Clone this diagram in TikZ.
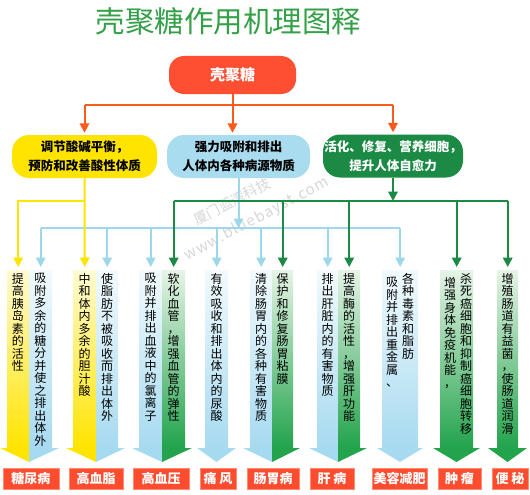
\documentclass[tikz,border=0pt]{standalone}
\usepackage{fontspec}
\setmainfont{Noto Sans CJK SC}
\usetikzlibrary{arrows.meta,calc}
\definecolor{ttl}{HTML}{34A048}
\definecolor{org}{HTML}{FF4F33}
\definecolor{orgline}{HTML}{FF5A1E}
\definecolor{ylw}{HTML}{FFE400}
\definecolor{ylwpale}{HTML}{FFFAD2}
\definecolor{blu}{HTML}{A9DCEE}
\definecolor{bluline}{HTML}{9DD7EA}
\definecolor{blustrip}{HTML}{A6DAF0}
\definecolor{blupale}{HTML}{F2FAFD}
\definecolor{grn}{HTML}{1B8A45}
\definecolor{grnstrip}{HTML}{22A34C}
\definecolor{grnpale}{HTML}{E6F4E6}
\definecolor{lblred}{HTML}{FF4B2E}
\definecolor{lblborder}{HTML}{FF8C73}
\definecolor{wmgray}{HTML}{D6D6D6}

\makeatletter
\def\vt@end{\vt@end}
\def\vt@step#1{\ifx#1\vt@end\else\hbox to 13pt{\hss#1\hss}\expandafter\vt@step\fi}
\newcommand\vtext[1]{\vbox{\baselineskip=12.5pt\lineskiplimit=-20pt\lineskip=0pt\vt@step#1\vt@end}}
\makeatother

\tikzset{
  pill/.style={rounded corners=17pt, minimum height=43pt, inner sep=0pt, align=center,
    font=\bfseries\fontsize{12.5}{19}\selectfont},
  arr/.style={-{Triangle[width=9.5pt,length=9.5pt]}},
  oln/.style={draw=orgline, line width=2pt},
  yln/.style={draw=ylw, line width=2pt},
  bln/.style={draw=bluline, line width=2pt},
  gln/.style={draw=grn, line width=2pt},
  strip/.style={minimum height=178pt, inner sep=0pt, anchor=north west},
  ystrip/.style={strip, top color=ylwpale, bottom color=ylw},
  bstrip/.style={strip, top color=blupale, bottom color=blustrip},
  gstrip/.style={strip, top color=grnpale, bottom color=grnstrip},
  vt/.style={anchor=north, inner sep=0pt, font=\fontsize{12}{12.5}\selectfont},
  lbl/.style={fill=lblred, draw=lblborder, line width=0.6pt, text=white,
    font=\bfseries\fontsize{13}{13}\selectfont, minimum height=21pt, inner sep=0pt},
  wm/.style={text=wmgray, inner sep=0pt}
}

\begin{document}
\begin{tikzpicture}[x=1pt, y=-1pt]
\useasboundingbox (0,0) rectangle (530,495);

% title
\node[text=ttl, font=\fontsize{29.5}{30}\selectfont] (title) at (228.5,21) {壳聚糖作用机理图释};

% top boxes
\node[fill=org, text=white, rounded corners=15pt, minimum width=127pt, minimum height=38pt,
  inner sep=0pt, font=\bfseries\fontsize{15}{15}\selectfont] (tb) at (232.5,75) {壳聚糖};
\node[pill, fill=ylw, minimum width=145pt] (yb) at (84.5,156.5) {调节酸碱平衡，\\预防和改善酸性体质};
\node[pill, fill=blu, minimum width=143pt] (bb) at (238.5,156.5) {强力吸附和排出\\人体内各种病源物质};
\node[pill, fill=grn, text=white, minimum width=140pt] (gb) at (393,156) {活化、修复、营养细胞，\\提升人体自愈力};

% strips
\node[ystrip, minimum width=22pt] (s1a) at (7,270) {};
\node[bstrip, minimum width=23pt] (s1b) at (29,270) {};
\node[ystrip, minimum width=23pt] (s2a) at (73,270) {};
\node[bstrip, minimum width=22pt] (s2b) at (96,270) {};
\node[bstrip, minimum width=23pt] (s3a) at (139,270) {};
\node[gstrip, minimum width=23pt] (s3b) at (162,270) {};
\node[bstrip, minimum width=23pt] (s4) at (205,270) {};
\node[bstrip, minimum width=22pt] (s5a) at (250,270) {};
\node[gstrip, minimum width=21pt] (s5b) at (272,270) {};
\node[bstrip, minimum width=21pt] (s6a) at (317,270) {};
\node[gstrip, minimum width=22pt] (s6b) at (338,270) {};
\node[bstrip, minimum width=36pt] (s7) at (382,270) {};
\node[gstrip, minimum width=33pt] (s8) at (440,270) {};
\node[gstrip, minimum width=21pt] (s9) at (497,270) {};

% arrow heads of the strips
\fill[ylw] (0,448) -- (29,448) -- (29,462) -- cycle;
\fill[blustrip] (29,448) -- (59,448) -- (29,462) -- cycle;
\fill[ylw] (66,448) -- (96,448) -- (96,462) -- cycle;
\fill[blustrip] (96,448) -- (125,448) -- (96,462) -- cycle;
\fill[blustrip] (132,448) -- (162,448) -- (162,462) -- cycle;
\fill[grnstrip] (162,448) -- (192,448) -- (162,462) -- cycle;
\fill[blustrip] (197,448) -- (236,448) -- (216.5,462) -- cycle;
\fill[blustrip] (243,448) -- (272,448) -- (272,462) -- cycle;
\fill[grnstrip] (272,448) -- (300,448) -- (272,462) -- cycle;
\fill[blustrip] (309,448) -- (338,448) -- (338,462) -- cycle;
\fill[grnstrip] (338,448) -- (367,448) -- (338,462) -- cycle;
\fill[blustrip] (377,448) -- (423,448) -- (400,462) -- cycle;
\fill[grnstrip] (433,448) -- (480,448) -- (456.5,462) -- cycle;
\fill[grnstrip] (488,448) -- (527,448) -- (507.5,462) -- cycle;

% strip texts
\node[vt] (t1a) at (18,273) {\vtext{提高胰岛素的活性}};
\node[vt] (t1b) at (40.5,273) {\vtext{吸附多余的糖分并使之排出体外}};
\node[vt] (t2a) at (84.5,273) {\vtext{中和体内多余的胆汁酸}};
\node[vt] (t2b) at (107,273) {\vtext{使脂肪不被吸收而排出体外}};
\node[vt] (t3a) at (150.5,273) {\vtext{吸附并排出血液中的氯离子}};
\node[vt] (t3b) at (173.5,273) {\vtext{软化血管，增强血管的弹性}};
\node[vt] (t4) at (216.5,273) {\vtext{有效吸收和排出体内的尿酸}};
\node[vt] (t5a) at (261,273) {\vtext{清除肠胃内的各种有害物质}};
\node[vt] (t5b) at (282.5,273) {\vtext{保护和修复肠胃粘膜}};
\node[vt] (t6a) at (327.5,273) {\vtext{排出肝脏内的有害物质}};
\node[vt] (t6b) at (349,273) {\vtext{提高酶的活性，增强肝功能}};
\node[vt] (t7a) at (392,277) {\vtext{吸附并排出重金属、}};
\node[vt] (t7b) at (408,273) {\vtext{各种毒素和脂肪}};
\node[vt] (t8a) at (450,277) {\vtext{增强身体免疫机能，}};
\node[vt] (t8b) at (466,273) {\vtext{杀死癌细胞和抑制癌细胞转移}};
\node[vt] (t9) at (507.5,273) {\vtext{增殖肠道有益菌，使肠道润滑}};

% labels
\node[lbl, minimum width=56pt] (l1) at (31,478.5) {糖尿病};
\node[lbl, minimum width=54pt] (l2) at (96,478.5) {高血脂};
\node[lbl, minimum width=56pt] (l3) at (161,478.5) {高血压};
\node[lbl, minimum width=36pt] (l4) at (218,478.5) {痛 风};
\node[lbl, minimum width=52pt] (l5) at (273,478.5) {肠胃病};
\node[lbl, minimum width=44pt] (l6) at (332,478.5) {肝 病};
\node[lbl, minimum width=55pt] (l7) at (399.5,478.5) {美容减肥};
\node[lbl, minimum width=43pt] (l8) at (459.5,478.5) {肿 瘤};
\node[lbl, minimum width=36pt] (l9) at (510,478.5) {便 秘};

% watermark (one two-line text)
\node[wm, rotate=28, anchor=south west, align=left,
  font=\fontsize{14}{26}\selectfont] (wm) at (189,264)
  {\hspace*{25pt}厦门蓝湾科技\\{\fontsize{15}{26}\selectfont\addfontfeature{LetterSpace=8}www.bluebayst.com}};

% levels of the connector lines
\coordinate (oY) at (0,105);
\coordinate (yY) at (0,201);
\coordinate (gY) at (0,201);
\coordinate (bY) at (0,228);

% orange
\draw[oln] (tb.south) -- (tb.south |- oY);
\draw[oln] (yb.north |- oY) -- (gb.north |- oY);
\draw[oln,arr,shorten >=2pt] (yb.north |- oY) -- (yb.north);
\draw[oln,arr,shorten >=2pt] (tb.south |- oY) -- (tb.south |- bb.north);
\draw[oln,arr,shorten >=2pt] (gb.north |- oY) -- (gb.north);

% blue
\draw[bln,arr] (bb.south) -- (bb.south |- bY);
\draw[bln] (s1b.north |- bY) -- (s7.north |- bY);
\foreach \s in {s1b,s2b,s3a,s4,s5a,s6a,s7}
  \draw[bln,arr,shorten >=3pt] (\s.north |- bY) -- (\s.north);

% yellow
\draw[yln,arr,shorten >=3pt] (yb.south) -- (s2a.north);
\draw[yln,arr,shorten >=3pt] (yb.south |- yY) -| (s1a.north);

% green
\draw[gln,arr] (gb.south) -- (gb.south |- gY);
\draw[gln] (s3b.north |- gY) -- (s9.north |- gY);
\foreach \s in {s3b,s5b,s6b,s8,s9}
  \draw[gln,arr,shorten >=3pt] (\s.north |- gY) -- (\s.north);
\end{tikzpicture}
\end{document}
